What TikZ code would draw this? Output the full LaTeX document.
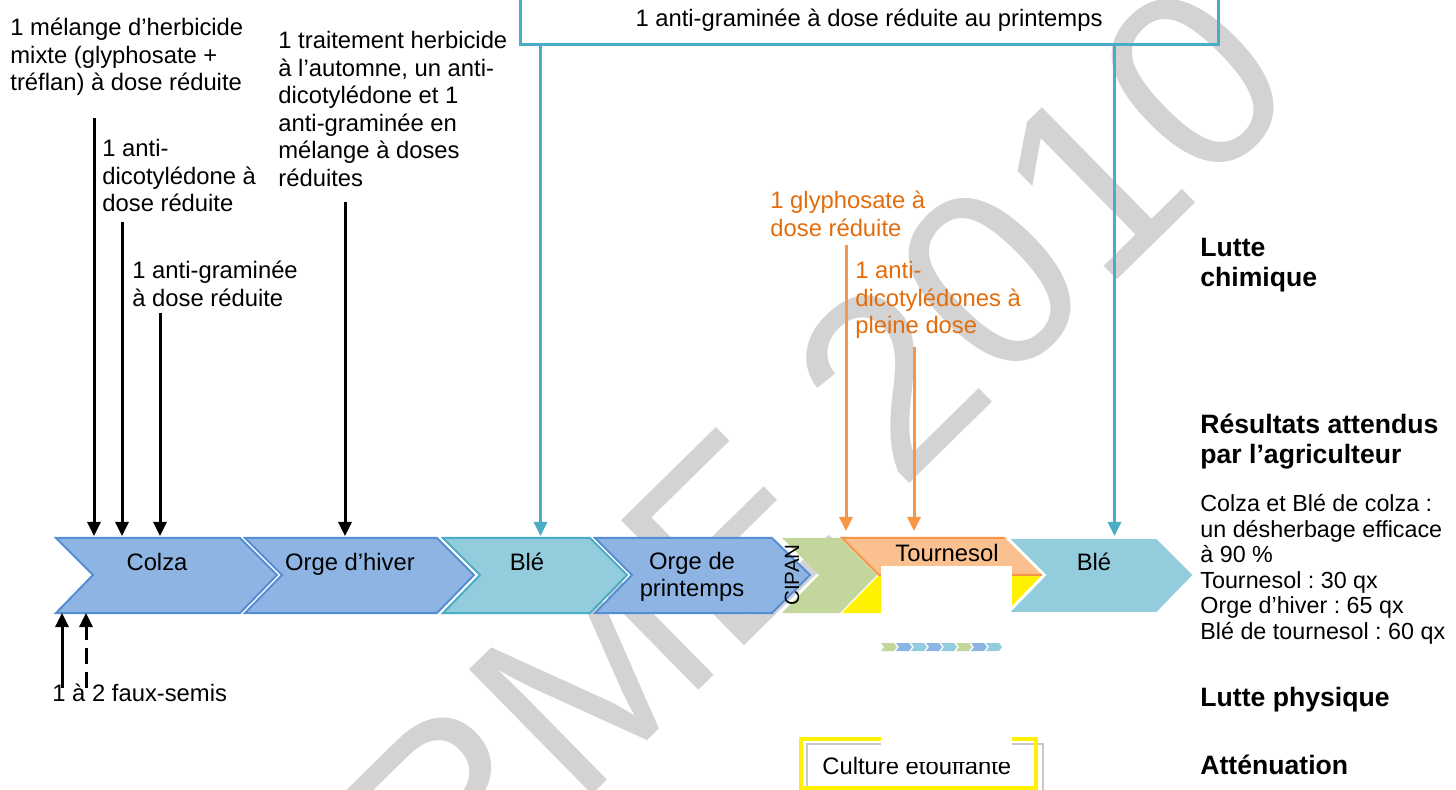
\documentclass[tikz,border=0pt]{standalone}
\usepackage{fontspec}
\setmainfont{Liberation Sans}
\usetikzlibrary{arrows.meta}
\frenchspacing

\definecolor{chevblue}{HTML}{8EB4E3}
\definecolor{chevblueline}{HTML}{558ED5}
\definecolor{chevteal}{HTML}{93CDDD}
\definecolor{tealline}{HTML}{4BACC6}
\definecolor{chevgreen}{HTML}{C3D69B}
\definecolor{chevorange}{HTML}{FAC090}
\definecolor{orangeline}{HTML}{F79646}
\definecolor{orangetext}{HTML}{E46C0A}
\definecolor{wmgray}{RGB}{211,211,211}
\definecolor{boxgray}{RGB}{200,200,200}

\tikzset{
  lbl/.style={anchor=north west, inner sep=0pt, align=left, font=\fontsize{11.9}{13.75}\selectfont},
  legend/.style={anchor=north west, inner sep=0pt, align=left, font=\fontsize{11.65}{12.8}\selectfont},
  head/.style={anchor=north west, inner sep=0pt, align=left, font=\fontsize{13.3}{15}\selectfont\bfseries},
  chevtext/.style={inner sep=0pt, align=center, font=\fontsize{11.9}{13.5}\selectfont},
  bluechev/.style={fill=chevblue, draw=chevblueline, line width=1pt},
  tealchev/.style={fill=chevteal, draw=tealline, line width=1pt},
  blackarrow/.style={->, line width=1.5pt},
  tealarrow/.style={->, line width=1.5pt, tealline},
  orangearrow/.style={->, line width=1.5pt, orangeline},
}

\begin{document}
\begin{tikzpicture}[x=0.5pt,y=-0.5pt,>={Triangle[width=6.5pt,length=7pt]}]
\useasboundingbox (0,0) rectangle (1456,790);

% filigrane
\node[anchor=base west, inner sep=0pt, rotate=44.5, text=wmgray,
  font=\fontsize{127.5}{130}\selectfont] (wm) at (446,939) {RME 2010};

% rotation
\foreach \xa/\xb/\sty in {56/240/bluechev,245/437/bluechev,443/590/tealchev}
  \draw[\sty] (\xa,538) -- (\xb,538) -- (\xb+37,575) -- (\xb,613) -- (\xa,613) -- (\xa+37,575) -- cycle;
\fill[chevgreen] (782,538) -- (840,538) -- (877,575) -- (840,613) -- (782,613) -- (819,575) -- cycle;
\draw[bluechev] (595,538) -- (772,538) -- (810,575) -- (772,613) -- (595,613) -- (632,575) -- cycle;
\node[chevtext, rotate=90, font=\fontsize{10.3}{12}\selectfont] (cipan) at (792,575) {CIPAN};

\begin{scope}
  \clip (842,538) -- (1005,538) -- (1042,575) -- (1005,613) -- (842,613) -- (879,575) -- cycle;
  \fill[chevorange] (830,530) rectangle (1050,575);
  \fill[yellow] (830,575) rectangle (1050,620);
\end{scope}
\draw[orangeline, line width=1pt] (1005,538) -- (842,538) -- (879,575) -- (1042,575);
\draw[orangeline!40, line width=1pt] (1005,538) -- (1042,538);
\fill[white] (881,566) rectangle (1012,616);
\draw[fill=chevteal, draw=white, line width=1pt] (1008,538) -- (1157,538) -- (1194,575) -- (1157,613) -- (1008,613) -- (1045,575) -- cycle;

\node[chevtext, anchor=base] (colza) at (157,571) {Colza};
\node[chevtext, anchor=base] (orgeh) at (350,571) {Orge d’hiver};
\node[chevtext, anchor=base] (ble) at (527,571) {Blé};
\node[chevtext] (orgep) at (692,577) {Orge de\\printemps};
\node[chevtext, anchor=base] (tournesol) at (947,561) {Tournesol};
\node[chevtext, anchor=base] (ble2) at (1094,571) {Blé};

% vignette
\foreach \i/\col in {0/chevgreen,1/chevblue,2/chevteal,3/chevblue,4/chevteal,5/chevgreen,6/chevblue,7/chevteal}
  \fill[\col] (881+\i*15,643) -- ++(13,0) -- ++(3,4) -- ++(-3,4) -- ++(-13,0) -- ++(3,-4) -- cycle;

\coordinate (rowtop) at (0,536);
\coordinate (orow) at (0,531);
\coordinate (rowbot) at (0,613);

% lutte chimique
\node[draw=tealline, line width=1.5pt, minimum width=349pt, minimum height=25pt, inner sep=0pt,
  font=\fontsize{11.9}{13.75}\selectfont] (spring) at (869,20) {1 anti-graminée à dose réduite au printemps};
\coordinate (t1) at ([xshift=11pt]spring.south west);
\coordinate (t2) at ([xshift=-52.5pt]spring.south east);
\draw[tealarrow] (t1) -- (t1 |- rowtop);
\draw[tealarrow] (t2) -- (t2 |- rowtop);

\node[lbl] (mix) at (10,18) {1 mélange d’herbicide\\mixte (glyphosate +\\tréflan) à dose réduite};
\node[lbl] (dicot) at (102,139) {1 anti-\\dicotylédone à\\dose réduite};
\node[lbl] (gram) at (132,261) {1 anti-graminée\\à dose réduite};
\node[lbl] (autumn) at (278,31) {1 traitement herbicide\\à l’automne, un anti-\\dicotylédone et 1\\anti-graminée en\\mélange à doses\\réduites};
\coordinate (a1) at (94,118);
\coordinate (a2) at (122,222);
\coordinate (a3) at (160,313);
\coordinate (a4) at (345,202);
\foreach \c in {a1,a2,a3,a4}
  \draw[blackarrow] (\c) -- (\c |- rowtop);

\node[lbl, text=orangetext] (glypho) at (770,191) {1 glyphosate à\\dose réduite};
\node[lbl, text=orangetext] (fulldose) at (855,261) {1 anti-\\dicotylédones à\\pleine dose};
\coordinate (o1) at (846,245);
\coordinate (o2) at (914,347);
\draw[orangearrow] (o1) -- (o1 |- orow);
\draw[orangearrow] (o2) -- (o2 |- orow);

% lutte physique
\coordinate (s1) at (62,688);
\coordinate (s2) at (86,688);
\draw[blackarrow] (s1) -- (s1 |- rowbot);
\draw[blackarrow, dash pattern=on 8pt off 4pt] (s2) -- (s2 |- rowbot);
\node[lbl] (semis) at (52,684) {1 à 2 faux-semis};

% attenuation
\draw[boxgray, line width=1pt] (807,744) rectangle (1043,792);
\draw[yellow, line width=2pt] (801,739) rectangle (1036,788);
\node[anchor=west, inner sep=0pt, font=\fontsize{11.9}{13.75}\selectfont] (smother) at (822,766) {Culture étouffante};
\fill[white] (881,732) rectangle (1012,762);

% legende
\node[head] (chem) at (1200,238) {Lutte\\chimique};
\node[head] (results) at (1200,414) {Résultats attendus\\par l’agriculteur};
\node[legend] (yields) at (1200,494) {Colza et Blé de colza :\\un désherbage efficace\\à 90 \%\\Tournesol : 30 qx\\Orge d’hiver : 65 qx\\Blé de tournesol : 60 qx};
\node[head] (phys) at (1200,687) {Lutte physique};
\node[head] (atten) at (1200,755) {Atténuation};
\end{tikzpicture}
\end{document}
